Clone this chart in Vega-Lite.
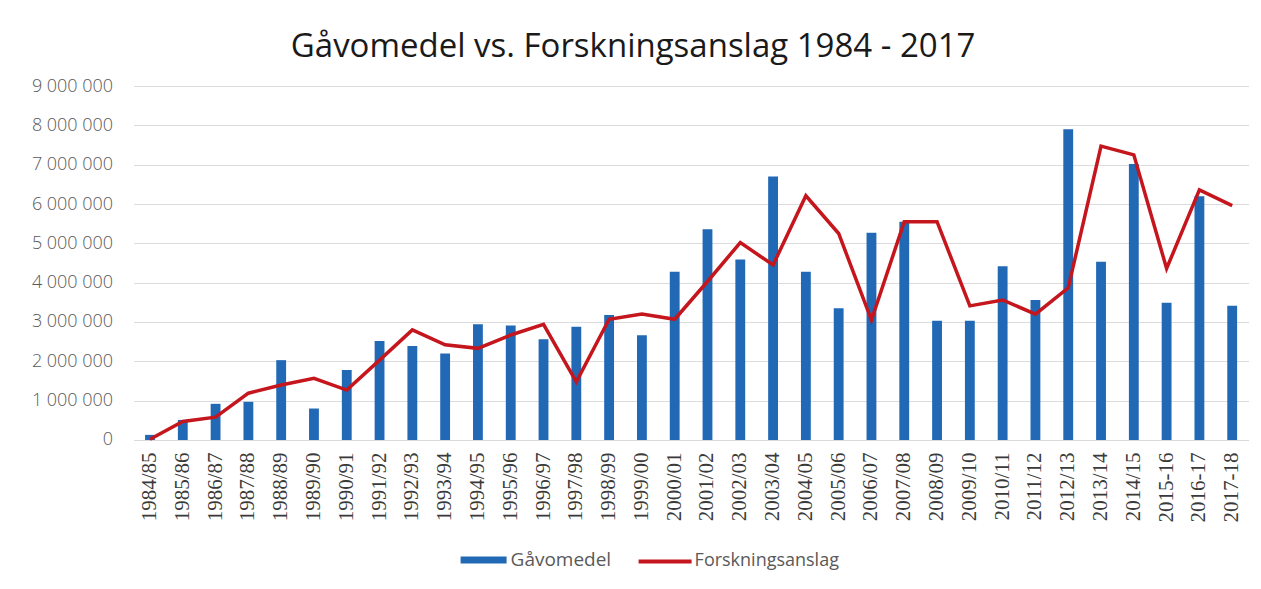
{
  "$schema": "https://vega.github.io/schema/vega-lite/v6.json",
  "autosize": {"type": "none"},
  "padding": {"left": 133.6, "top": 86, "right": 12, "bottom": 149},
  "width": 1115,
  "height": 354,
  "background": "white",
  "title": {
    "text": "Gåvomedel vs. Forskningsanslag 1984 - 2017",
    "font": "Open Sans",
    "fontSize": 33,
    "fontWeight": "normal",
    "color": "#1a1a1a",
    "anchor": "middle",
    "frame": "group",
    "baseline": "alphabetic",
    "offset": -13,
    "dx": -58
  },
  "data": {
    "values": [
      {"year": "1984/85", "gavo": 130000, "forsk": 20000},
      {"year": "1985/86", "gavo": 510000, "forsk": 470000},
      {"year": "1986/87", "gavo": 920000, "forsk": 580000},
      {"year": "1987/88", "gavo": 970000, "forsk": 1190000},
      {"year": "1988/89", "gavo": 2030000, "forsk": 1400000},
      {"year": "1989/90", "gavo": 800000, "forsk": 1570000},
      {"year": "1990/91", "gavo": 1780000, "forsk": 1270000},
      {"year": "1991/92", "gavo": 2520000, "forsk": 2030000},
      {"year": "1992/93", "gavo": 2390000, "forsk": 2800000},
      {"year": "1993/94", "gavo": 2200000, "forsk": 2420000},
      {"year": "1994/95", "gavo": 2940000, "forsk": 2330000},
      {"year": "1995/96", "gavo": 2910000, "forsk": 2670000},
      {"year": "1996/97", "gavo": 2560000, "forsk": 2940000},
      {"year": "1997/98", "gavo": 2880000, "forsk": 1480000},
      {"year": "1998/99", "gavo": 3180000, "forsk": 3070000},
      {"year": "1999/00", "gavo": 2660000, "forsk": 3200000},
      {"year": "2000/01", "gavo": 4280000, "forsk": 3070000},
      {"year": "2001/02", "gavo": 5360000, "forsk": 4030000},
      {"year": "2002/03", "gavo": 4590000, "forsk": 5020000},
      {"year": "2003/04", "gavo": 6700000, "forsk": 4450000},
      {"year": "2004/05", "gavo": 4280000, "forsk": 6210000},
      {"year": "2005/06", "gavo": 3350000, "forsk": 5250000},
      {"year": "2006/07", "gavo": 5270000, "forsk": 3050000},
      {"year": "2007/08", "gavo": 5550000, "forsk": 5550000},
      {"year": "2008/09", "gavo": 3030000, "forsk": 5550000},
      {"year": "2009/10", "gavo": 3030000, "forsk": 3410000},
      {"year": "2010/11", "gavo": 4420000, "forsk": 3560000},
      {"year": "2011/12", "gavo": 3560000, "forsk": 3200000},
      {"year": "2012/13", "gavo": 7900000, "forsk": 3870000},
      {"year": "2013/14", "gavo": 4530000, "forsk": 7470000},
      {"year": "2014/15", "gavo": 7020000, "forsk": 7250000},
      {"year": "2015-16", "gavo": 3490000, "forsk": 4360000},
      {"year": "2016-17", "gavo": 6200000, "forsk": 6360000},
      {"year": "2017-18", "gavo": 3410000, "forsk": 5960000}
    ]
  },
  "encoding": {
    "x": {
      "field": "year",
      "type": "nominal",
      "sort": null,
      "scale": {"paddingInner": 0.7, "paddingOuter": 0.35},
      "axis": {"title": null, "labelAngle": -90}
    }
  },
  "layer": [
    {
      "mark": {"type": "bar"},
      "encoding": {
        "y": {
          "field": "gavo",
          "type": "quantitative",
          "scale": {"domain": [0, 9000000], "nice": false},
          "axis": {
            "title": null,
            "values": [0, 1000000, 2000000, 3000000, 4000000, 5000000, 6000000, 7000000, 8000000, 9000000],
            "labelExpr": "replace(format(datum.value, ','), regexp(',', 'g'), ' ')"
          }
        },
        "fill": {
          "datum": "Gåvomedel",
          "type": "nominal",
          "scale": {"range": ["#2168b5"]},
          "legend": {
            "title": null,
            "orient": "none",
            "legendX": 327,
            "legendY": 451,
            "padding": 0,
            "symbolType": "M-1,-0.15H1V0.15H-1Z",
            "symbolSize": 2116,
            "symbolStrokeWidth": 0,
            "labelOffset": 4,
            "labelFont": "Open Sans",
            "labelFontSize": 19,
            "labelColor": "#595959"
          }
        }
      }
    },
    {
      "mark": {"type": "line", "strokeWidth": 3.5, "strokeJoin": "miter"},
      "encoding": {
        "y": {
          "field": "forsk",
          "type": "quantitative",
          "axis": {
            "title": null,
            "values": [0, 1000000, 2000000, 3000000, 4000000, 5000000, 6000000, 7000000, 8000000, 9000000],
            "labelExpr": "replace(format(datum.value, ','), regexp(',', 'g'), ' ')"
          }
        },
        "stroke": {
          "datum": "Forskningsanslag",
          "type": "nominal",
          "scale": {"range": ["#c4161c"]},
          "legend": {
            "title": null,
            "orient": "none",
            "legendX": 503,
            "legendY": 447,
            "padding": 0,
            "symbolType": "stroke",
            "symbolSize": 2809,
            "symbolStrokeWidth": 4,
            "labelOffset": 1,
            "labelFont": "Open Sans",
            "labelFontSize": 18,
            "labelColor": "#595959"
          }
        }
      }
    }
  ],
  "config": {
    "view": {"stroke": null},
    "axisX": {
      "labelFont": "Liberation Serif",
      "labelFontSize": 21,
      "labelColor": "#3a3a3a",
      "labelPadding": 12,
      "labelOverlap": false,
      "ticks": false,
      "domain": true,
      "domainColor": "#d9d9d9",
      "domainWidth": 1,
      "grid": false
    },
    "axisY": {
      "labelFont": "Open Sans",
      "labelFontWeight": 300,
      "labelFontSize": 18,
      "labelColor": "#595959",
      "labelPadding": 21,
      "labelOverlap": false,
      "ticks": false,
      "domain": false,
      "grid": true,
      "gridColor": "#dcdcdc",
      "gridWidth": 1
    }
  }
}
